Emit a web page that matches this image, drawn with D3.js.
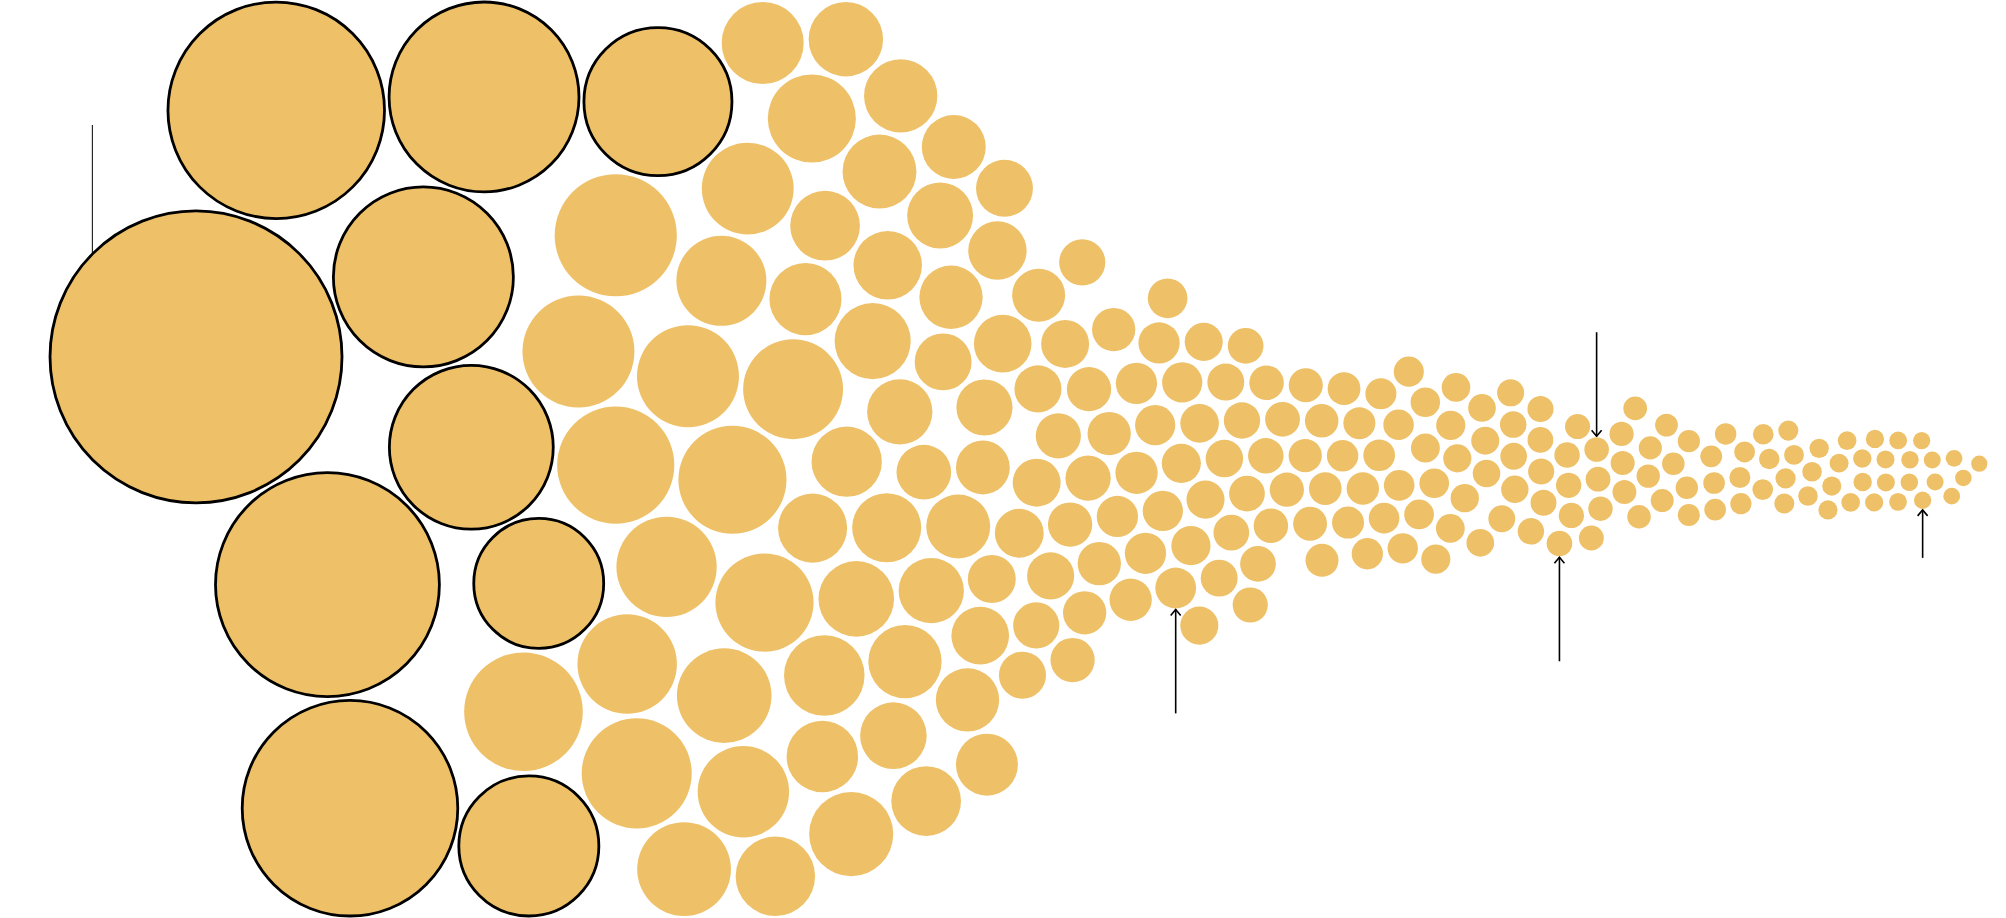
<!DOCTYPE html>
<html>
<head>
<meta charset="utf-8">
<script src="https://cdn.jsdelivr.net/npm/d3@7"></script>
<style>
  html, body { margin: 0; padding: 0; background: #fff; }
  svg { display: block; }
</style>
</head>
<body>
<div id="chart"></div>
<script>
// sizes (area units, biggest = 1000), largest first
const values = [
  1000, 588, 550, 545, 423, 380, 315, 257, 230, 198,
  175, 165, 161, 147, 142, 137, 122, 118, 117, 116, 113, 105, 103, 99, 98, 95, 91, 83, 79, 76, 74,
  68, 67, 65, 64, 63, 63, 61, 60, 58, 57, 57, 56, 56, 55,
  52, 51, 50, 50, 48, 48, 47, 47, 45,
  40, 39, 39, 38, 38, 37, 35, 34, 33,
  28, 27, 27, 27, 26, 26, 26,
  25, 25, 24, 24,
  23, 23, 23, 22, 22, 22, 22, 21,
  21, 20, 20, 20, 20, 19.5, 19, 19, 19,
  18.5, 18, 18, 17.5, 17, 17, 17, 16.5, 16,
  16, 15.5, 15, 15, 15, 15, 14.8, 14,
  14.5, 14.2, 14, 13.8, 13.6, 13.5, 13.2, 13, 12.8, 12.6, 12.5, 12.3, 12, 12, 11.8,
  11.6, 11.5, 11.3, 11, 11, 10.9, 10.8, 10.6, 10.4, 10.3, 10.2, 10, 10, 9.8, 9.7,
  9.6, 9.4, 9.3, 9.2, 9, 9, 8.9, 8.8, 8.6, 8.5, 8.4, 8.3, 8.2, 8, 8,
  7.9, 7.8, 7.7, 7.6, 7.5, 7.5, 7.4, 7.3, 7.2,
  7.1, 7, 6.9, 6.8, 6.7, 6.6, 6.5, 6.4, 6.3, 6.2, 6.1, 6, 5.9, 5.8, 5.7,
  5.6, 5.5, 5.5, 5.4, 5.3, 5.2, 5.1, 5, 5, 4.9, 4.8, 4.7, 4.7, 4.6, 4.5,
  4.5, 4.4, 4.3, 4.3, 4.2, 4.1, 4.1, 4, 4, 3.9, 3.9, 3.8, 3.8, 3.7, 3.7,
  3.6, 3.6, 3.5, 3.5, 3.4, 3.4, 3.3, 3.3, 3.2, 3.1
];

// the biggest ones get a black ring
const highlightCount = 10;

// pointers: which size they point at, from which side
const notes = [
  {value: 1000, side: "top", type: "line"},
  {value: 18, side: "bottom", type: "arrow"},
  {value: 7.7, side: "bottom", type: "arrow"},
  {value: 7, side: "top", type: "arrow"},
  {value: 3.45, side: "bottom", type: "arrow"}
];

const width = 2006;
const height = 918;
const midY = 472;

const r = d3.scaleSqrt()
  .domain([0, d3.max(values)])
  .range([0, 146]);

// size -> horizontal spot (bigger to the left)
const x = d3.scaleLog()
  .domain([1000, 550, 400, 250, 150, 100, 60, 35, 25, 20, 15, 12, 10, 7.2, 5, 3.1])
  .range([290, 340, 470, 580, 620, 700, 800, 930, 1010, 1120, 1230, 1350, 1430, 1590, 1760, 1978]);

const nodes = values.map((v, i) => ({value: v, i: i, r: r(v)}));

const sim = d3.forceSimulation()
  .force("x", d3.forceX(d => x(d.value)).strength(d => Math.min(1, 0.4 + d.r / 150)))
  .force("y", d3.forceY(midY).strength(0.06))
  .force("collide", d3.forceCollide(d => d.r + 2.5).strength(1).iterations(4))
  .stop();

sim.nodes(nodes);
nodes.forEach(d => { d.x += x(d.value); d.y += midY; });

for (let k = 0; k < 500; k++) {
  sim.tick();
  nodes.forEach(d => {
    d.x = Math.max(d.r + 1, Math.min(width - d.r - 1, d.x));
    d.y = Math.max(d.r + 2, Math.min(height - d.r - 2, d.y));
  });
}

const svg = d3.select("#chart")
  .append("svg")
  .attr("width", width)
  .attr("height", height);

svg.append("defs")
  .append("marker")
  .attr("id", "head")
  .attr("viewBox", "0 -6 10 12")
  .attr("refX", 9)
  .attr("refY", 0)
  .attr("markerUnits", "userSpaceOnUse")
  .attr("markerWidth", 10)
  .attr("markerHeight", 12)
  .attr("orient", "auto")
  .append("path")
  .attr("d", "M3,-5L9,0L3,5")
  .attr("fill", "none")
  .attr("stroke", "#000")
  .attr("stroke-width", 1.6);

svg.append("g")
  .selectAll("circle")
  .data(nodes)
  .join("circle")
  .attr("cx", d => d.x)
  .attr("cy", d => d.y)
  .attr("r", d => d.r)
  .attr("fill", "#eec168")
  .attr("stroke", d => d.i < highlightCount ? "#000" : "none")
  .attr("stroke-width", 2.8);

// find the outermost circle in the column of a given size
function pick(note) {
  const cx = x(note.value);
  const col = nodes.filter(d => Math.abs(d.x - cx) < d.r * 1.2);
  return note.side === "top" ? d3.least(col, d => d.y - d.r) : d3.least(col, d => -(d.y + d.r));
}

const g = svg.append("g");
notes.forEach(note => {
  const d = note.type === "line" ? nodes[0] : pick(note);
  if (!d) return;
  if (note.type === "line") {
    const dx = d.r * 0.71;
    const yEdge = d.y - Math.sqrt(d.r * d.r - dx * dx);
    g.append("line")
      .attr("x1", d.x - dx).attr("x2", d.x - dx)
      .attr("y1", 125).attr("y2", yEdge)
      .attr("stroke", "#000").attr("stroke-width", 1);
  } else {
    const len = note.value < 4 ? 48 : 104;
    const tip = note.side === "top" ? d.y - d.r - 1 : d.y + d.r + 1;
    const tail = note.side === "top" ? tip - len : tip + len;
    g.append("line")
      .attr("x1", d.x).attr("x2", d.x)
      .attr("y1", tail).attr("y2", tip)
      .attr("stroke", "#000").attr("stroke-width", 1.6)
      .attr("marker-end", "url(#head)");
  }
});
</script>
</body>
</html>
